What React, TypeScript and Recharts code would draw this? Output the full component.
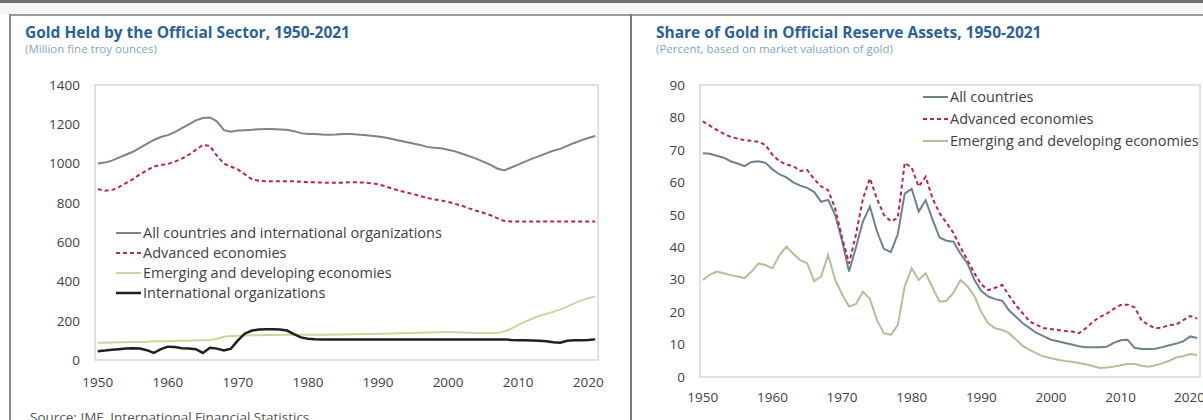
import { Legend, Line, LineChart, ReferenceArea, XAxis, YAxis } from 'recharts';

const years = Array.from({ length: 72 }, (_, i) => 1950 + i);
const decadeTicks = [1950, 1960, 1970, 1980, 1990, 2000, 2010, 2020];

// left panel, million fine troy ounces
const heldAll = [
  1000, 1005, 1015, 1030, 1045, 1060, 1080, 1100, 1120, 1135, 1145, 1160, 1180, 1200, 1220, 1232, 1235, 1215,
  1170, 1162, 1168, 1170, 1172, 1175, 1176, 1176, 1174, 1172, 1165, 1155, 1150, 1150, 1148, 1147, 1148, 1150,
  1150, 1148, 1145, 1142, 1138, 1133, 1125, 1117, 1110, 1102, 1095, 1085, 1080, 1078, 1070, 1062, 1050, 1038,
  1025, 1010, 995, 975, 965, 980, 995, 1010, 1025, 1038, 1052, 1065, 1075, 1090, 1105, 1118, 1130, 1140,
];
const heldAdvanced = [
  870, 862, 865, 880, 900, 920, 945, 965, 985, 993, 998, 1010, 1025, 1045, 1070, 1095, 1090, 1040, 1000, 985,
  970, 945, 920, 912, 910, 910, 910, 910, 910, 908, 905, 905, 903, 903, 903, 903, 905, 905, 903, 900, 895, 885,
  873, 862, 853, 845, 835, 825, 818, 812, 805, 795, 785, 772, 760, 750, 738, 722, 708, 705, 705, 705, 705, 705,
  705, 705, 705, 705, 705, 705, 705, 705,
];
const heldEmerging = [
  88, 88, 89, 90, 90, 92, 92, 93, 95, 96, 96, 97, 98, 98, 100, 100, 102, 108, 118, 122, 124, 125, 126, 126, 127,
  127, 127, 128, 128, 128, 128, 128, 129, 129, 130, 130, 131, 131, 132, 132, 133, 134, 135, 136, 137, 138, 139,
  140, 141, 141, 142, 141, 140, 139, 138, 137, 137, 138, 145, 160, 178, 195, 210, 225, 235, 245, 258, 272, 288,
  302, 315, 322,
];
const heldIntl = [
  45, 48, 52, 55, 58, 60, 58, 50, 36, 55, 68, 66, 60, 58, 55, 36, 62, 58, 48, 58, 100, 135, 150, 155, 156, 156,
  155, 150, 132, 115, 108, 106, 105, 105, 105, 105, 105, 105, 105, 105, 105, 105, 105, 105, 105, 105, 105, 105,
  105, 105, 105, 105, 105, 105, 105, 105, 105, 105, 105, 102, 100, 100, 99, 98, 95, 90, 88, 98, 100, 100, 102,
  105,
];

// right panel, percent
const shareAll = [
  69.0, 68.8, 68.2, 67.6, 66.5, 65.8, 65.0, 66.3, 66.5, 66.0, 64.0, 62.5, 61.5, 60.0, 59.0, 58.3, 57.0, 54.0,
  54.6, 50.0, 42.0, 32.5, 40.0, 48.0, 52.5, 45.0, 39.5, 38.5, 44.0, 56.5, 58.0, 51.0, 54.5, 48.5, 43.0, 42.0,
  41.7, 38.0, 35.0, 30.0, 26.5, 24.8, 24.0, 23.5, 20.5, 18.5, 16.5, 15.0, 13.5, 12.5, 11.5, 11.0, 10.5, 10.0,
  9.5, 9.2, 9.2, 9.2, 9.3, 10.5, 11.3, 11.5, 9.0, 8.6, 8.6, 8.7, 9.2, 9.8, 10.3, 11.0, 12.5, 12.0,
];
const shareAdvanced = [
  78.8, 77.5, 76.2, 75.0, 74.0, 73.5, 73.0, 72.8, 72.5, 71.5, 68.5, 66.5, 65.5, 65.0, 63.5, 63.8, 61.0, 58.7,
  57.6, 52.0, 43.0, 35.0, 44.0, 55.0, 61.2, 55.0, 50.0, 48.0, 49.0, 66.0, 64.5, 58.7, 61.7, 55.0, 50.5, 47.5,
  44.4, 40.0, 36.0, 32.0, 28.5, 26.8, 27.5, 28.4, 25.0, 22.0, 19.5, 17.0, 16.0, 15.0, 14.8, 14.5, 14.2, 14.0,
  13.5, 15.0, 17.0, 18.5, 19.5, 21.0, 22.2, 22.3, 21.5, 17.5, 16.0, 15.0, 15.3, 16.0, 16.2, 17.5, 18.8, 18.0,
];
const shareEmerging = [
  29.9, 31.5, 32.5, 32.0, 31.4, 31.0, 30.5, 32.5, 35.0, 34.5, 33.5, 37.5, 40.2, 38.0, 36.0, 35.0, 29.5, 31.0,
  37.6, 30.0, 25.5, 21.7, 22.5, 26.3, 24.0, 17.6, 13.5, 13.0, 16.0, 28.0, 33.5, 29.9, 32.0, 27.5, 23.2, 23.5,
  26.0, 29.9, 28.0, 25.0, 20.0, 16.5, 15.0, 14.5, 13.5, 11.5, 9.5, 8.3, 7.2, 6.3, 5.8, 5.3, 4.9, 4.7, 4.3, 3.9,
  3.4, 2.8, 2.9, 3.2, 3.6, 4.0, 4.0, 3.5, 3.2, 3.6, 4.2, 5.0, 6.0, 6.5, 7.1, 6.8,
];

const heldTicks = [0, 200, 400, 600, 800, 1000, 1200, 1400];
const shareTicks = [0, 10, 20, 30, 40, 50, 60, 70, 80, 90];

const heldRows = years.map((year, i) => ({
  year,
  all: heldAll[i],
  adv: heldAdvanced[i],
  em: heldEmerging[i],
  intl: heldIntl[i],
}));
const shareRows = years.map((year, i) => ({
  year,
  all: shareAll[i],
  adv: shareAdvanced[i],
  em: shareEmerging[i],
}));

const X_DOMAIN: [number, number] = [1949.6, 2021.4];
const FONT = '"Open Sans", sans-serif';
const TEXT = '#404040';
const BOX = '#d6d6d6';

interface LegendItem {
  label: string;
  color: string;
  width: number;
  dash?: string;
}

function LegendRows({ items, rowHeight }: { items: LegendItem[]; rowHeight: number }) {
  return (
    <div>
      {items.map((it) => (
        <div key={it.label} style={{ display: 'flex', alignItems: 'center', height: rowHeight, whiteSpace: 'nowrap' }}>
          <svg width={25} height={10} style={{ marginRight: 2 }}>
            <line x1={0} y1={5} x2={25} y2={5} stroke={it.color} strokeWidth={it.width} strokeDasharray={it.dash} />
          </svg>
          <span style={{ fontSize: 14.5, color: TEXT, fontFamily: FONT, lineHeight: 1 }}>{it.label}</span>
        </div>
      ))}
    </div>
  );
}

const tick = { fontSize: 13.5, fill: TEXT, fontFamily: FONT };

// horizontal + middle + center keeps the legend from eating into the plot offsets
function HeldChart() {
  const items: LegendItem[] = [
    { label: 'All countries and international organizations', color: '#76858f', width: 2 },
    { label: 'Advanced economies', color: '#b8264f', width: 2, dash: '4 3' },
    { label: 'Emerging and developing economies', color: '#c9d89c', width: 2 },
    { label: 'International organizations', color: '#1f1f1f', width: 2.5 },
  ];
  return (
    <LineChart width={610} height={420} data={heldRows} margin={{ top: 85, right: 12, left: 50, bottom: 30 }}>
      <XAxis
        dataKey="year"
        type="number"
        domain={X_DOMAIN}
        ticks={decadeTicks}
        axisLine={false}
        tickLine={false}
        tickSize={0}
        tickMargin={17}
        height={30}
        tick={tick}
      />
      <YAxis
        type="number"
        domain={[0, 1400]}
        ticks={heldTicks}
        axisLine={false}
        tickLine={false}
        tickSize={0}
        tickMargin={15}
        width={45}
        tick={tick}
      />
      <ReferenceArea x1={X_DOMAIN[0]} x2={X_DOMAIN[1]} y1={0} y2={1400} fill="none" stroke={BOX} strokeWidth={1.5} />
      <Legend
        layout="horizontal"
        verticalAlign="middle"
        align="center"
        wrapperStyle={{ left: 116, top: 223, width: 'auto', right: 'auto', bottom: 'auto' }}
        content={() => <LegendRows items={items} rowHeight={20} />}
      />
      <Line dataKey="em" stroke="#c9d89c" strokeWidth={2} dot={false} isAnimationActive={false} />
      <Line dataKey="intl" stroke="#1f1f1f" strokeWidth={2.5} dot={false} isAnimationActive={false} />
      <Line dataKey="all" stroke="#76858f" strokeWidth={2} dot={false} isAnimationActive={false} />
      <Line dataKey="adv" stroke="#b8264f" strokeWidth={2} strokeDasharray="4 3" dot={false} isAnimationActive={false} />
    </LineChart>
  );
}

function ShareChart() {
  const items: LegendItem[] = [
    { label: 'All countries', color: '#6f8190', width: 2 },
    { label: 'Advanced economies', color: '#b8264f', width: 2, dash: '4 3' },
    { label: 'Emerging and developing economies', color: '#b3c096', width: 2 },
  ];
  return (
    <LineChart width={563} height={420} data={shareRows} margin={{ top: 85, right: 3, left: 15, bottom: 13 }}>
      <XAxis
        dataKey="year"
        type="number"
        domain={X_DOMAIN}
        ticks={decadeTicks}
        axisLine={false}
        tickLine={false}
        tickSize={0}
        tickMargin={15}
        height={30}
        tick={tick}
      />
      <YAxis
        type="number"
        domain={[0, 90]}
        ticks={shareTicks}
        axisLine={false}
        tickLine={false}
        tickSize={0}
        tickMargin={15}
        width={45}
        tick={tick}
      />
      <ReferenceArea x1={X_DOMAIN[0]} x2={X_DOMAIN[1]} y1={0} y2={90} fill="none" stroke={BOX} strokeWidth={1.5} />
      <Legend
        layout="horizontal"
        verticalAlign="middle"
        align="center"
        wrapperStyle={{ left: 283, top: 86, width: 'auto', right: 'auto', bottom: 'auto' }}
        content={() => <LegendRows items={items} rowHeight={22} />}
      />
      <Line dataKey="em" stroke="#b3c096" strokeWidth={2} dot={false} isAnimationActive={false} />
      <Line dataKey="all" stroke="#6f8190" strokeWidth={2} dot={false} isAnimationActive={false} />
      <Line dataKey="adv" stroke="#b8264f" strokeWidth={2} strokeDasharray="4 3" dot={false} isAnimationActive={false} />
    </LineChart>
  );
}

const titleStyle: React.CSSProperties = {
  position: 'absolute',
  fontFamily: FONT,
  fontWeight: 700,
  fontSize: 15.5,
  color: '#2b6198',
  whiteSpace: 'nowrap',
  lineHeight: '18px',
};
const subStyle: React.CSSProperties = {
  position: 'absolute',
  fontFamily: FONT,
  fontSize: 11.5,
  color: '#86a5bf',
  whiteSpace: 'nowrap',
  lineHeight: '13px',
};

export default function App() {
  return (
    <div style={{ position: 'absolute', left: 0, top: 0, width: 1203, height: 420, overflow: 'hidden', background: '#fff' }}>
      <div style={{ position: 'absolute', left: 0, top: 0, width: 1203, height: 3, background: '#6e6e6e' }} />
      <div style={{ position: 'absolute', left: 0, top: 3, width: 1203, height: 11, background: '#f4f4f4' }} />
      <div style={{ position: 'absolute', left: 9, top: 14, width: 1194, height: 2, background: '#9a9a9a' }} />
      <div style={{ position: 'absolute', left: 9, top: 14, width: 2, height: 406, background: '#8c8c8c' }} />
      <div style={{ position: 'absolute', left: 630, top: 14, width: 2, height: 406, background: '#7c7c7c' }} />

      <div style={{ ...titleStyle, left: 25, top: 23 }}>Gold Held by the Official Sector, 1950-2021</div>
      <div style={{ ...subStyle, left: 25, top: 42 }}>(Million fine troy ounces)</div>
      <div style={{ ...titleStyle, left: 656, top: 23 }}>Share of Gold in Official Reserve Assets, 1950-2021</div>
      <div style={{ ...subStyle, left: 656, top: 42 }}>(Percent, based on market valuation of gold)</div>

      <div style={{ position: 'absolute', left: 0, top: 0 }}>
        <HeldChart />
      </div>
      <div style={{ position: 'absolute', left: 640, top: 0 }}>
        <ShareChart />
      </div>

      <div style={{ position: 'absolute', left: 30, top: 408, fontFamily: FONT, fontSize: 13.5, color: '#555', whiteSpace: 'nowrap' }}>
        Source: IMF, International Financial Statistics.
      </div>
    </div>
  );
}
